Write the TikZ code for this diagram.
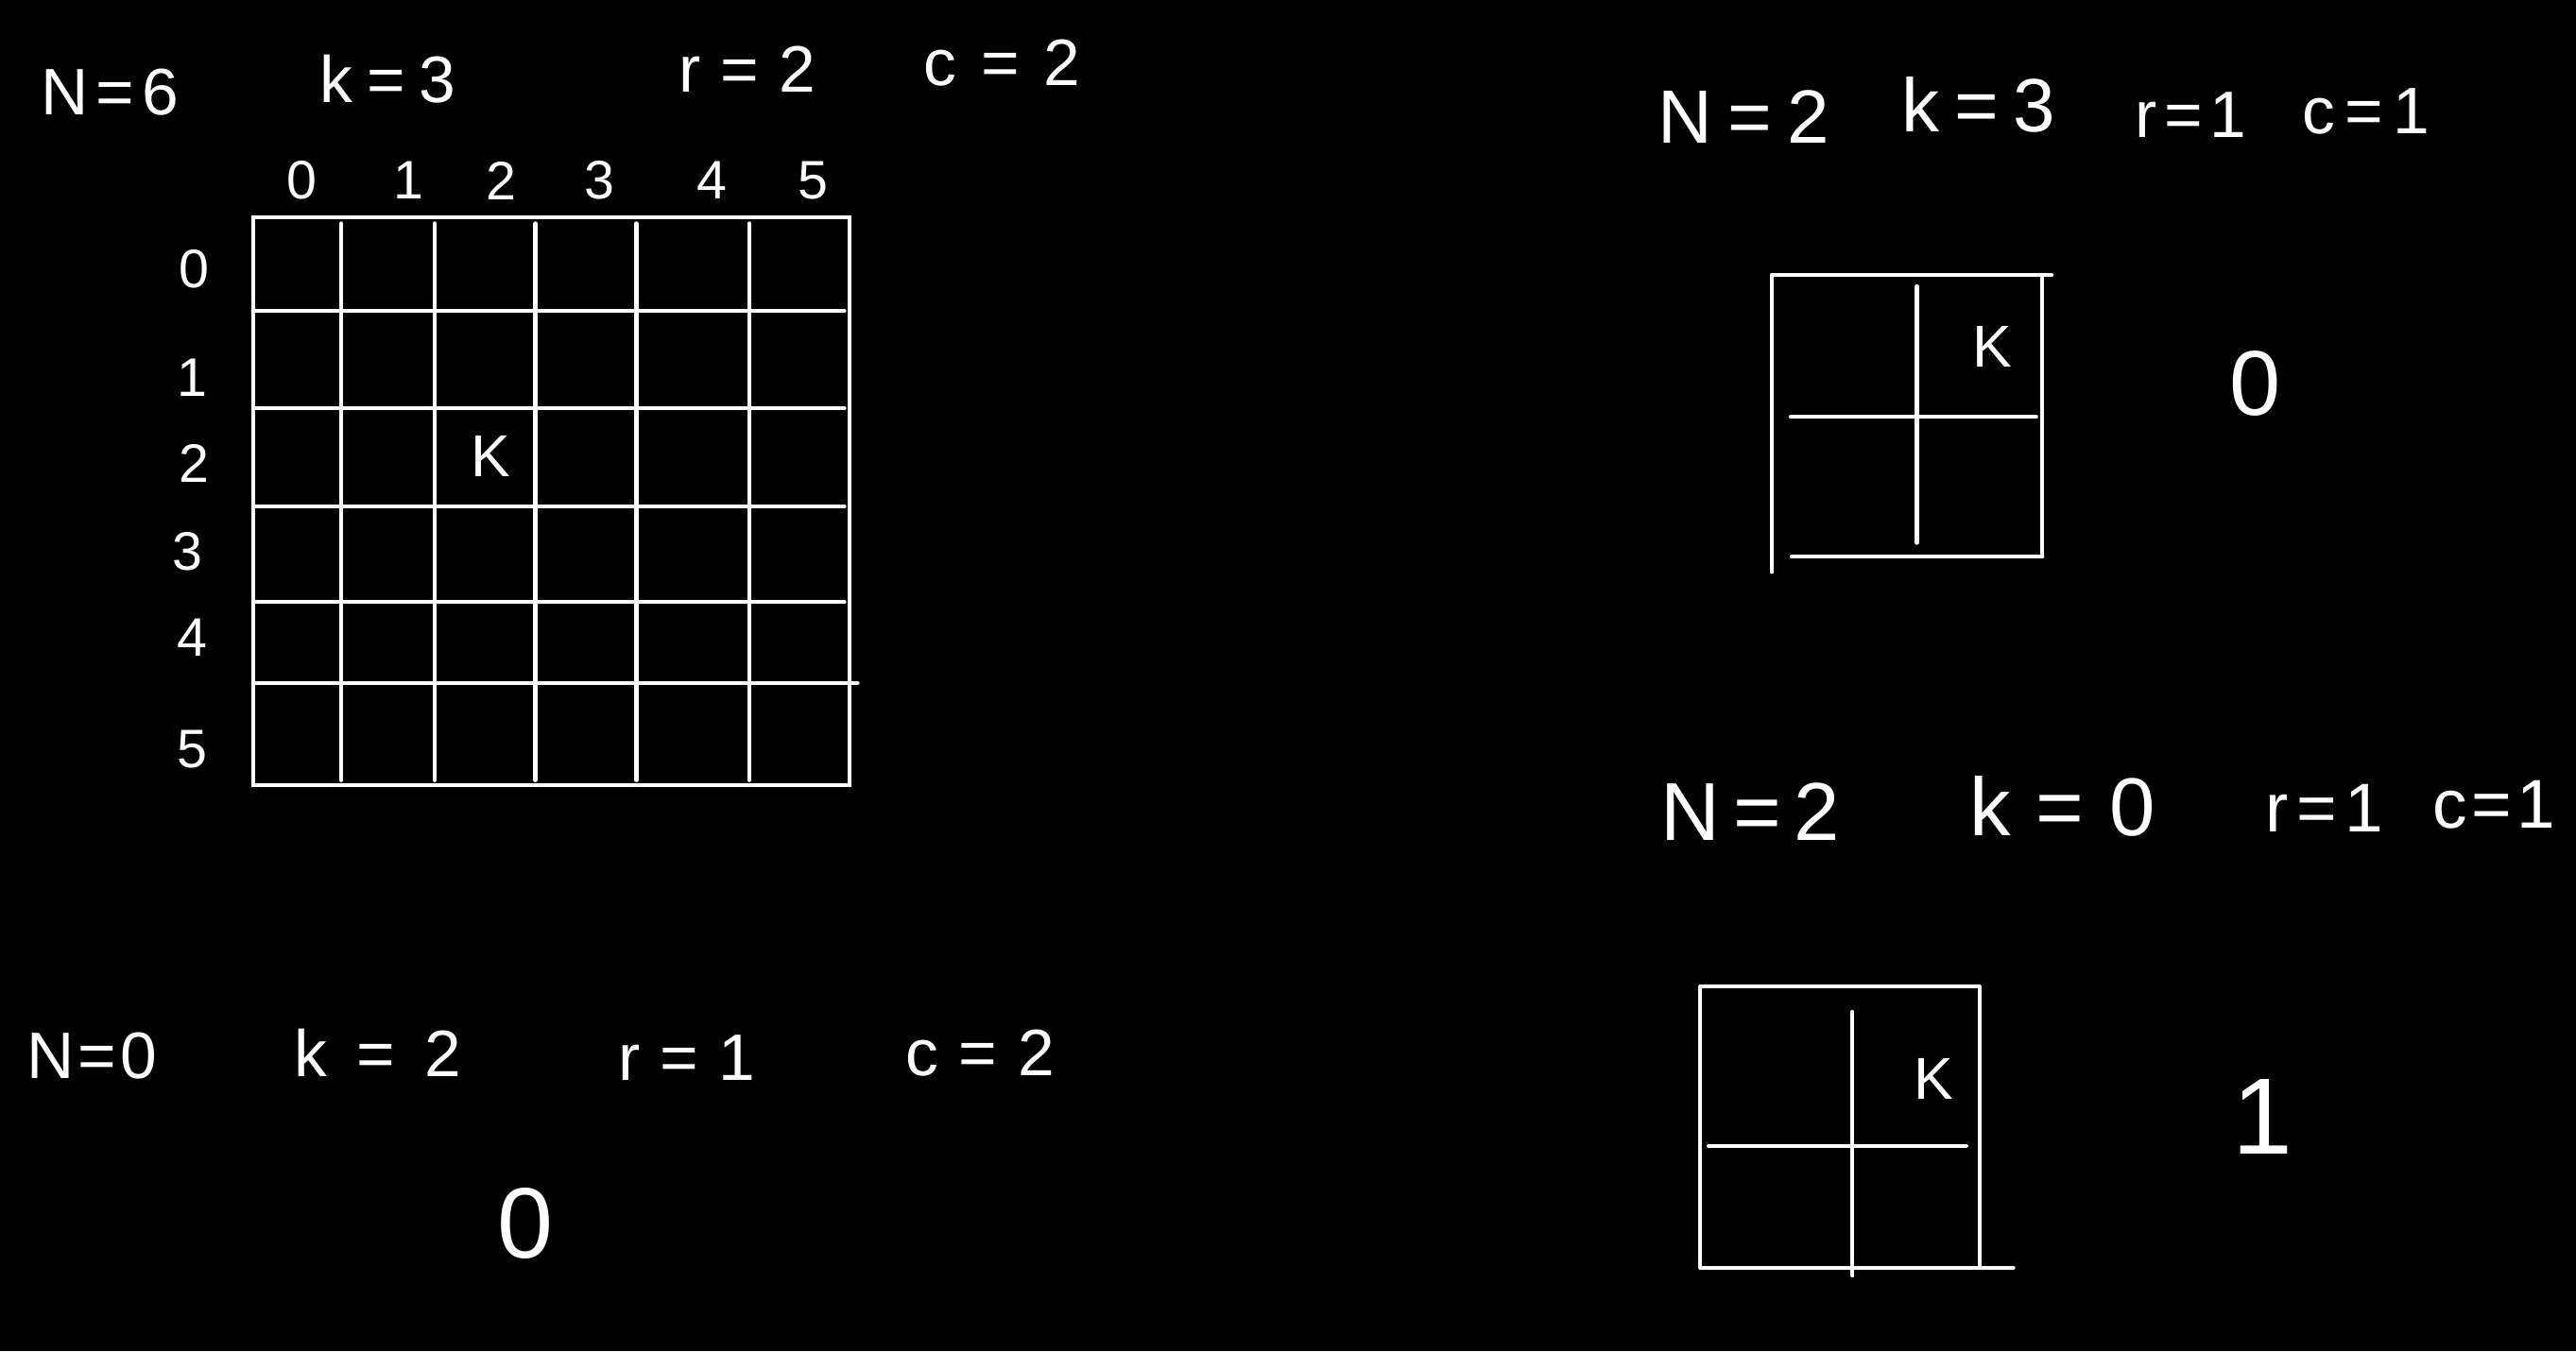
\documentclass[tikz,border=0pt]{standalone}
\usepackage{fontspec}
\setmainfont{Liberation Sans}
\newcommand\hlab[3]{#1\hspace{#3pt}=\hspace{#3pt}#2}
\begin{document}
\begin{tikzpicture}[x=1pt,y=-1pt,
  ln/.style={white, line width=2.4pt, line cap=round},
  lbl/.style={text=white, inner sep=0pt, font=\fontsize{40}{48}\selectfont},
  lblm/.style={text=white, inner sep=0pt, font=\fontsize{46}{54}\selectfont},
  lblb/.style={text=white, inner sep=0pt, font=\fontsize{50}{58}\selectfont},
  idx/.style={text=white, inner sep=0pt, font=\fontsize{33}{38}\selectfont},
  kk/.style={text=white, inner sep=0pt, font=\fontsize{36}{42}\selectfont},
  ans/.style={text=white, inner sep=0pt, font=\fontsize{56}{64}\selectfont}]
\fill[black] (0,0) rectangle (1568,822.54);
\useasboundingbox (0,0) rectangle (1568,822.54);

% ---------- big 6x6 grid ----------
\draw[ln] (154,132.5) rectangle (517,478);
\foreach \x in {207.8,264.6,325.8,387.4,456.1}
  \draw[ln] (\x,136) -- (\x,475);
\foreach \y in {189.3,248.6,308.2,366.6}
  \draw[ln] (154,\y) -- (514,\y);
\draw[ln] (154,415.8) -- (522,415.8);

\node[lbl] (n6) at (67,56) {\hlab{N}{6}{4.5}};
\node[lbl] (k3) at (236,48) {\hlab{k}{3}{8.5}};
\node[lbl] (r2) at (455,42) {\hlab{r}{2}{12}};
\node[lbl] (c2) at (610,38) {\hlab{c}{2}{15}};

\node[idx] (c0) at (184,110) {0};
\node[idx] (c1) at (248.7,110) {1};
\node[idx] (c2i) at (305,110) {2};
\node[idx] (c3) at (365,110) {3};
\node[idx] (c4) at (433.6,110) {4};
\node[idx] (c5) at (495,110) {5};

\node[idx] (r0) at (118,164) {0};
\node[idx] (r1) at (117,229.7) {1};
\node[idx] (r2i) at (118,282) {2};
\node[idx] (r3) at (114,336) {3};
\node[idx] (r4) at (117,388) {4};
\node[idx] (r5) at (117,456) {5};

\node[kk] (K1) at (299,278) {K};

% ---------- top-right 2x2 grid ----------
\node[lblm] (n2a) at (1061.5,71) {\hlab{N}{2}{9.5}};
\node[lblm] (k3a) at (1204.5,64) {\hlab{k}{3}{9}};
\node[lbl] (r1a) at (1333.5,70) {\hlab{r}{1}{4.5}};
\node[lbl] (c1a) at (1440,68) {\hlab{c}{1}{6}};

\draw[ln] (1078.7,167.4) -- (1248.8,167.4);
\draw[ln] (1078.7,167.4) -- (1078.7,348.2);
\draw[ln] (1243.2,167.4) -- (1243.2,338.7);
\draw[ln] (1090.6,338.7) -- (1243.2,338.7);
\draw[ln] (1166.8,174.3) -- (1166.8,330.5);
\draw[ln] (1090,253.8) -- (1239.4,253.8);
\node[kk] (K2) at (1213,211) {K};
\node[ans] (a0) at (1373,233.4) {0};

% ---------- bottom-right 2x2 grid ----------
\node[lblb] (n2b) at (1065.5,494) {\hlab{N}{2}{8}};
\node[lblb] (k0b) at (1255.5,491) {\hlab{k}{0}{15.5}};
\node[lbl, font=\fontsize{42}{50}\selectfont] (r1b) at (1415,492) {\hlab{r}{1}{5}};
\node[lbl, font=\fontsize{42}{50}\selectfont] (c1b) at (1518,490) {\hlab{c}{1}{3}};

\draw[ln] (1035,600.6) -- (1204.8,600.6);
\draw[ln] (1035,600.6) -- (1035,771.8);
\draw[ln] (1204.8,600.6) -- (1204.8,771.8);
\draw[ln] (1035,771.8) -- (1225.5,771.8);
\draw[ln] (1127.6,616) -- (1127.6,776.6);
\draw[ln] (1040,697.5) -- (1196.9,697.5);
\node[kk] (K3) at (1177,657) {K};
\node[ans, font=\fontsize{66}{72}\selectfont] (a1) at (1377,680) {1};

% ---------- bottom-left ----------
\node[lbl] (n0) at (56,643) {\hlab{N}{0}{2.5}};
\node[lbl] (k2) at (230,641) {\hlab{k}{2}{18}};
\node[lbl] (r1c) at (418,644) {\hlab{r}{1}{12}};
\node[lbl] (c2c) at (596.5,641) {\hlab{c}{2}{12.5}};
\node[ans, font=\fontsize{61}{68}\selectfont] (a0b) at (320,745) {0};
\end{tikzpicture}
\end{document}
